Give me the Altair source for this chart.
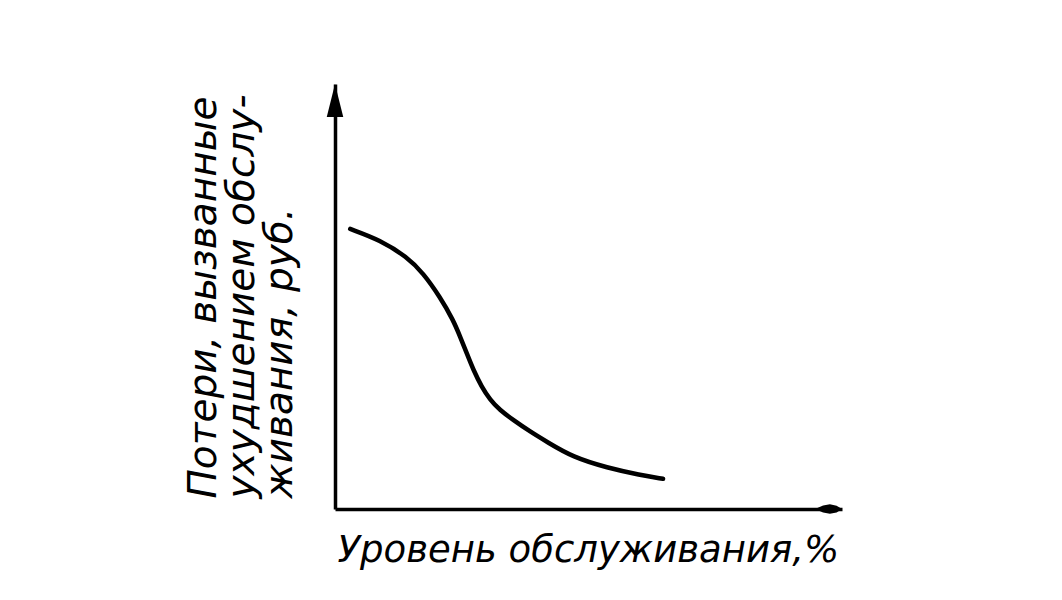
import altair as alt
import pandas as pd

# Curve: service level (%) vs. losses caused by worse service (rub.) — schematic units 0..100
level = [3.0, 8.9, 14.2, 17.4, 20.7, 23.3, 24.7, 26.0, 27.3, 28.9, 30.6, 32.5, 35.2, 38.5, 41.8, 46.9, 53.7, 60.2, 64.7]
losses = [65.9, 63.3, 59.3, 55.5, 49.9, 44.5, 40.5, 36.6, 32.7, 28.8, 25.7, 23.3, 20.9, 18.2, 15.8, 12.2, 9.7, 8.0, 7.1]

axis_max = 100
x_title = "Уровень обслуживания,%"
y_title = ["Потери, вызванные", "ухудшением обслу-", "живания, руб."]

curve_df = pd.DataFrame({"level": level, "losses": losses})
y_arrow_df = pd.DataFrame({"level": [0], "losses": [axis_max]})
x_arrow_df = pd.DataFrame({"level": [axis_max], "losses": [0]})

xscale = alt.Scale(domain=[0, axis_max], nice=False, zero=True)
yscale = alt.Scale(domain=[0, axis_max], nice=False, zero=True)

x_axis = alt.Axis(
    title=x_title, ticks=False, labels=False, grid=False,
    domain=True, domainColor="black", domainWidth=3.5,
    titleFont="DejaVu Sans", titleFontStyle="italic", titleFontWeight="normal",
    titleFontSize=37, titleColor="black",
    titleAlign="left", titleBaseline="alphabetic", titleAnchor="start",
    titleX=2, titleY=52,
)
y_axis = alt.Axis(
    title=y_title, ticks=False, labels=False, grid=False,
    domain=True, domainColor="black", domainWidth=3.5,
    titleFont="DejaVu Sans", titleFontStyle="italic", titleFontWeight="normal",
    titleFontSize=39, titleColor="black", titleLineHeight=38,
    titleAngle=270, titleAlign="left", titleBaseline="alphabetic",
    titleX=-120, titleY=414,
)

curve = alt.Chart(curve_df).mark_line(
    color="black", strokeWidth=4.5, interpolate="basis", strokeCap="round"
).encode(
    x=alt.X("level:Q", scale=xscale, axis=x_axis),
    y=alt.Y("losses:Q", scale=yscale, axis=y_axis),
)

y_arrow = alt.Chart(y_arrow_df).mark_point(
    shape="M0,0 L0.5,2 L-0.5,2 Z", size=1089, filled=True,
    color="black", opacity=1, strokeWidth=0,
).encode(
    x=alt.X("level:Q", scale=xscale),
    y=alt.Y("losses:Q", scale=yscale),
)

x_arrow = alt.Chart(x_arrow_df).mark_point(
    shape="M0,0 L-0.4,-0.25 L-0.9,-0.36 L-1.4,-0.26 L-2,0 L-1.4,0.26 L-0.9,0.36 L-0.4,0.25 Z",
    size=729, filled=True, color="black", opacity=1, strokeWidth=0,
).encode(
    x=alt.X("level:Q", scale=xscale),
    y=alt.Y("losses:Q", scale=yscale),
)

chart = alt.layer(curve, y_arrow, x_arrow).properties(
    width=507, height=425,
    autosize=alt.AutoSizeParams(type="none"),
    padding={"left": 327, "top": 76, "right": 200, "bottom": 70},
    background="white",
).configure_view(stroke=None)

chart.save("out.html", embed_options={"renderer": "svg", "actions": False})
